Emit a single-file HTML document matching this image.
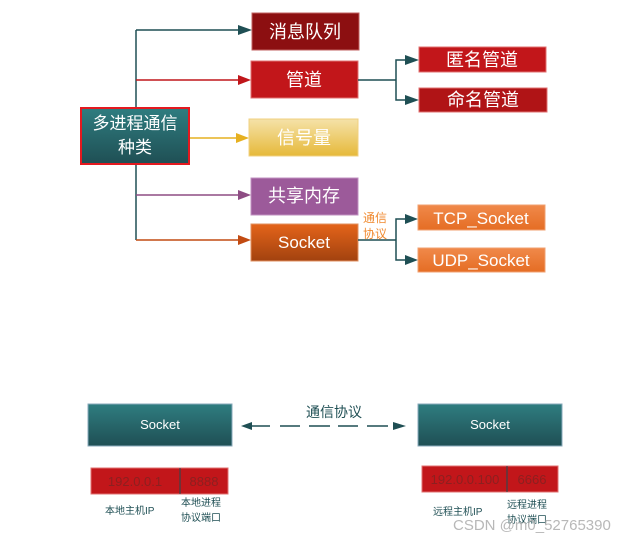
<!DOCTYPE html>
<html><head><meta charset="utf-8"><style>
html,body{margin:0;padding:0;background:#fff;width:644px;height:543px;overflow:hidden}
text{font-family:"Liberation Sans","Noto Sans CJK SC",sans-serif}
</style></head><body>
<svg width="644" height="543" viewBox="0 0 644 543" xmlns="http://www.w3.org/2000/svg">
<defs>
<linearGradient id="teal" x1="0" y1="0" x2="0" y2="1"><stop offset="0" stop-color="#2f7d80"/><stop offset="1" stop-color="#1f4f54"/></linearGradient>
<linearGradient id="yel" x1="0" y1="0" x2="0" y2="1"><stop offset="0" stop-color="#f5e2a8"/><stop offset="1" stop-color="#e6b93a"/></linearGradient>
<linearGradient id="soc" x1="0" y1="0" x2="0" y2="1"><stop offset="0" stop-color="#e4641a"/><stop offset="1" stop-color="#a2420f"/></linearGradient>
<linearGradient id="or" x1="0" y1="0" x2="0" y2="1"><stop offset="0" stop-color="#f0894a"/><stop offset="1" stop-color="#e56d24"/></linearGradient>
</defs>
<!-- trunk -->
<line x1="136" y1="30" x2="136" y2="107" stroke="#1f4f54" stroke-width="1.5"/>
<line x1="136" y1="164" x2="136" y2="240" stroke="#1f4f54" stroke-width="1.5"/>
<line x1="136" y1="30" x2="240" y2="30" stroke="#1f4f54" stroke-width="1.5"/><polygon points="238,25 252,30 238,35" fill="#1f4f54"/>
<line x1="136" y1="80" x2="240" y2="80" stroke="#c0161a" stroke-width="1.5"/><polygon points="238,75 251,80 238,85" fill="#c0161a"/>
<line x1="189" y1="138" x2="238" y2="138" stroke="#e6b020" stroke-width="1.5"/><polygon points="236,133 249,138 236,143" fill="#e6b020"/>
<line x1="136" y1="195" x2="240" y2="195" stroke="#8e4d84" stroke-width="1.5"/><polygon points="238,190 251,195 238,200" fill="#8e4d84"/>
<line x1="136" y1="240" x2="240" y2="240" stroke="#c24b12" stroke-width="1.5"/><polygon points="238,235 251,240 238,245" fill="#c24b12"/>
<!-- main box -->
<rect x="81" y="108" width="108" height="56" fill="url(#teal)" stroke="#e4191f" stroke-width="2"/>
<text x="135" y="129" font-size="17" fill="#fff" text-anchor="middle">多进程通信</text>
<text x="135" y="153" font-size="17" fill="#fff" text-anchor="middle">种类</text>
<!-- level 1 boxes -->
<rect x="252" y="13" width="107" height="37" fill="#8c0f11" stroke="#c06060"/>
<text x="305" y="38" font-size="18" fill="#fff" text-anchor="middle">消息队列</text>
<rect x="251" y="61" width="107" height="37" fill="#c2161a" stroke="#e07070"/>
<text x="304" y="86" font-size="18" fill="#fff" text-anchor="middle">管道</text>
<rect x="249" y="119" width="109" height="37" fill="url(#yel)" stroke="#f0d080"/>
<text x="304" y="144" font-size="18" fill="#fff" text-anchor="middle">信号量</text>
<rect x="251" y="178" width="107" height="37" fill="#9c5a9a" stroke="#c090c0"/>
<text x="304" y="202" font-size="18" fill="#fff" text-anchor="middle">共享内存</text>
<rect x="251" y="224" width="107" height="37" fill="url(#soc)" stroke="#e09060"/>
<text x="304" y="248" font-size="17" fill="#fff" text-anchor="middle">Socket</text>
<!-- pipe branches -->
<polyline points="358,80 396,80" fill="none" stroke="#1f4f54" stroke-width="1.5"/>
<polyline points="407,60 396,60 396,100 407,100" fill="none" stroke="#1f4f54" stroke-width="1.5"/>
<polygon points="405,55 419,60 405,65" fill="#1f4f54"/><polygon points="405,95 419,100 405,105" fill="#1f4f54"/>
<rect x="419" y="47" width="127" height="25" fill="#c2161a" stroke="#e07070"/>
<text x="482" y="66" font-size="18" fill="#fff" text-anchor="middle">匿名管道</text>
<rect x="419" y="88" width="128" height="24" fill="#b01416" stroke="#e07070"/>
<text x="483" y="106" font-size="18" fill="#fff" text-anchor="middle">命名管道</text>
<!-- socket branches -->
<polyline points="358,240 396,240" fill="none" stroke="#1f4f54" stroke-width="1.5"/>
<polyline points="407,219 396,219 396,260 407,260" fill="none" stroke="#1f4f54" stroke-width="1.5"/>
<polygon points="405,214 418,219 405,224" fill="#1f4f54"/><polygon points="405,255 418,260 405,265" fill="#1f4f54"/>
<text x="363" y="222" font-size="12" fill="#f08a30">通信</text>
<text x="363" y="238" font-size="12" fill="#f08a30">协议</text>
<rect x="418" y="205" width="127" height="25" fill="url(#or)" stroke="#f0a070"/>
<text x="481" y="224" font-size="17" fill="#fff" text-anchor="middle">TCP_Socket</text>
<rect x="418" y="248" width="127" height="24" fill="url(#or)" stroke="#f0a070"/>
<text x="481" y="266" font-size="17" fill="#fff" text-anchor="middle">UDP_Socket</text>
<!-- bottom -->
<rect x="88" y="404" width="144" height="42" fill="url(#teal)" stroke="#8ab"/>
<text x="160" y="429" font-size="13" fill="#fff" text-anchor="middle">Socket</text>
<rect x="418" y="404" width="144" height="42" fill="url(#teal)" stroke="#8ab"/>
<text x="490" y="429" font-size="13" fill="#fff" text-anchor="middle">Socket</text>
<text x="334" y="417" font-size="14" fill="#1f4f54" text-anchor="middle">通信协议</text>
<polygon points="241,426 252,422 252,430" fill="#1f4f54"/>
<g stroke="#1f4f54" stroke-width="1.5">
<line x1="250" y1="426" x2="270" y2="426"/><line x1="280" y1="426" x2="300" y2="426"/><line x1="309" y1="426" x2="330" y2="426"/><line x1="338" y1="426" x2="358" y2="426"/><line x1="367" y1="426" x2="388" y2="426"/></g>
<polygon points="406,426 393,422 393,430" fill="#1f4f54"/>
<rect x="91" y="468" width="137" height="26" fill="#c2161a" stroke="#e07070"/>
<line x1="180" y1="468" x2="180" y2="494" stroke="#1f4f54"/>
<text x="135" y="486" font-size="13" fill="#8c2020" text-anchor="middle">192.0.0.1</text>
<text x="204" y="486" font-size="13" fill="#8c2020" text-anchor="middle">8888</text>
<rect x="422" y="466" width="136" height="26" fill="#c2161a" stroke="#e07070"/>
<line x1="507" y1="466" x2="507" y2="492" stroke="#1f4f54"/>
<text x="465" y="484" font-size="13" fill="#8c2020" text-anchor="middle">192.0.0.100</text>
<text x="532" y="484" font-size="13" fill="#8c2020" text-anchor="middle">6666</text>
<g font-size="10" fill="#1f4f54">
<text x="105" y="514">本地主机IP</text>
<text x="181" y="506">本地进程</text><text x="181" y="521">协议端口</text>
<text x="433" y="515">远程主机IP</text>
<text x="507" y="508">远程进程</text><text x="507" y="523">协议端口</text>
</g>
<text x="453" y="530" font-size="15" fill="#b0b0b0" fill-opacity="0.9">CSDN @m0_52765390</text>
</svg>
</body></html>
